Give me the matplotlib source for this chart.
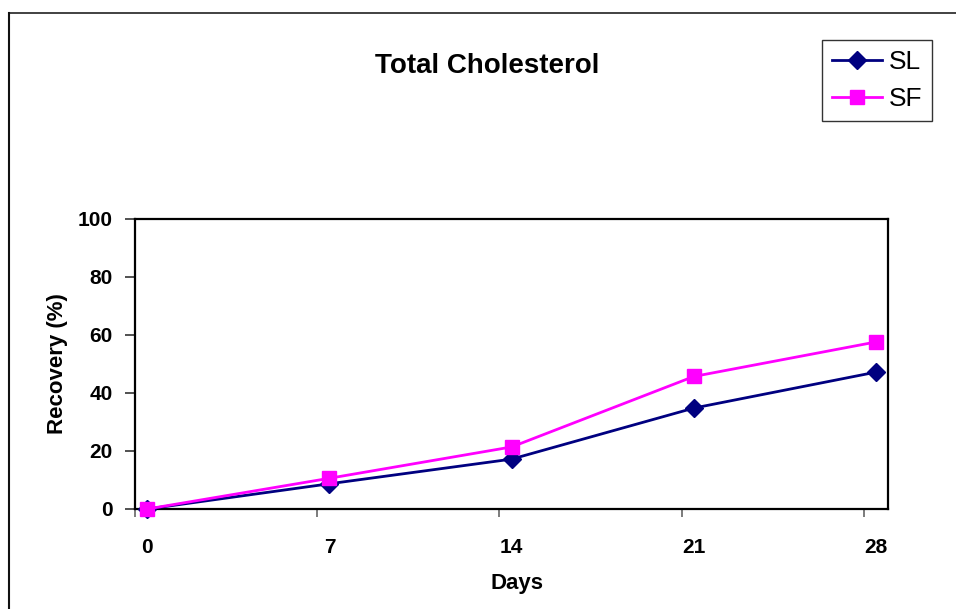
import matplotlib
matplotlib.use('Agg')
import matplotlib.pyplot as plt
from matplotlib.lines import Line2D

plt.rcParams['font.family'] = ['Liberation Sans', 'DejaVu Sans']

days = [0, 7, 14, 21, 28]
sl = [0, 8.7, 17.2, 34.8, 47.2]
sf = [0, 10.6, 21.4, 45.7, 57.6]
yticks = [0, 20, 40, 60, 80, 100]

W, H = 956, 609
fig = plt.figure(figsize=(W / 100, H / 100), dpi=100)
fig.patch.set_facecolor('white')

# outer frame: only top and left edges show
fig.add_artist(Line2D([9 / W, 1], [1 - 13 / H, 1 - 13 / H], color='#333333', lw=1.3))
fig.add_artist(Line2D([9 / W, 9 / W], [0, 1 - 13 / H], color='#111111', lw=1.5))

ax = fig.add_axes([135 / W, 1 - 509 / H, (888 - 135) / W, (509 - 219) / H])

ax.plot(days, sl, color='#000080', lw=2, marker='D', ms=9, mfc='#000080', mec='#000080',
        label='SL', zorder=3, clip_on=False)
ax.plot(days, sf, color='#FF00FF', lw=2, marker='s', ms=10.5, mfc='#FF00FF', mec='#FF00FF',
        label='SF', zorder=4, clip_on=False)

off = 0.47
ax.set_xlim(-off, 28 + 0.46)
ax.set_ylim(0, 100)

for s in ax.spines.values():
    s.set_linewidth(1.6)
    s.set_color('black')

# labels sit on the data points, tick marks sit between categories
ax.set_xticks(days)
ax.set_xticklabels([str(d) for d in days], fontsize=15, fontweight='bold')
ax.tick_params(axis='x', which='major', length=0, pad=21)
ax.set_xticks([d - off for d in days], minor=True)
ax.tick_params(axis='x', which='minor', length=6, width=1.2, color='#666666', direction='out')

ax.set_yticks(yticks)
ax.set_yticklabels([str(v) for v in yticks], fontsize=15, fontweight='bold')
ax.tick_params(axis='y', length=7, width=1.2, color='#333333', direction='out', pad=9)

ax.set_xlabel('Days', fontsize=16, fontweight='bold')
ax.xaxis.set_label_coords((517 - 135) / 753, -(584 - 509) / 290)
ax.xaxis.label.set_va('center')
ax.set_ylabel('Recovery (%)', fontsize=16, fontweight='bold')
ax.yaxis.set_label_coords((58 - 135) / 753, 0.5)
ax.yaxis.label.set_va('center')

fig.text(487 / W, 1 - 66 / H, 'Total Cholesterol', fontsize=20, fontweight='bold',
         ha='center', va='center')

leg = ax.legend(loc='upper right', bbox_to_anchor=(932 / W, 1 - 40 / H),
                bbox_transform=fig.transFigure, fontsize=19, frameon=True,
                fancybox=False, edgecolor='black', handlelength=1.9,
                handletextpad=0.25, borderpad=0.38, labelspacing=0.5,
                borderaxespad=0)
leg.get_frame().set_linewidth(1.0)

fig.savefig('out.png', dpi=100)
